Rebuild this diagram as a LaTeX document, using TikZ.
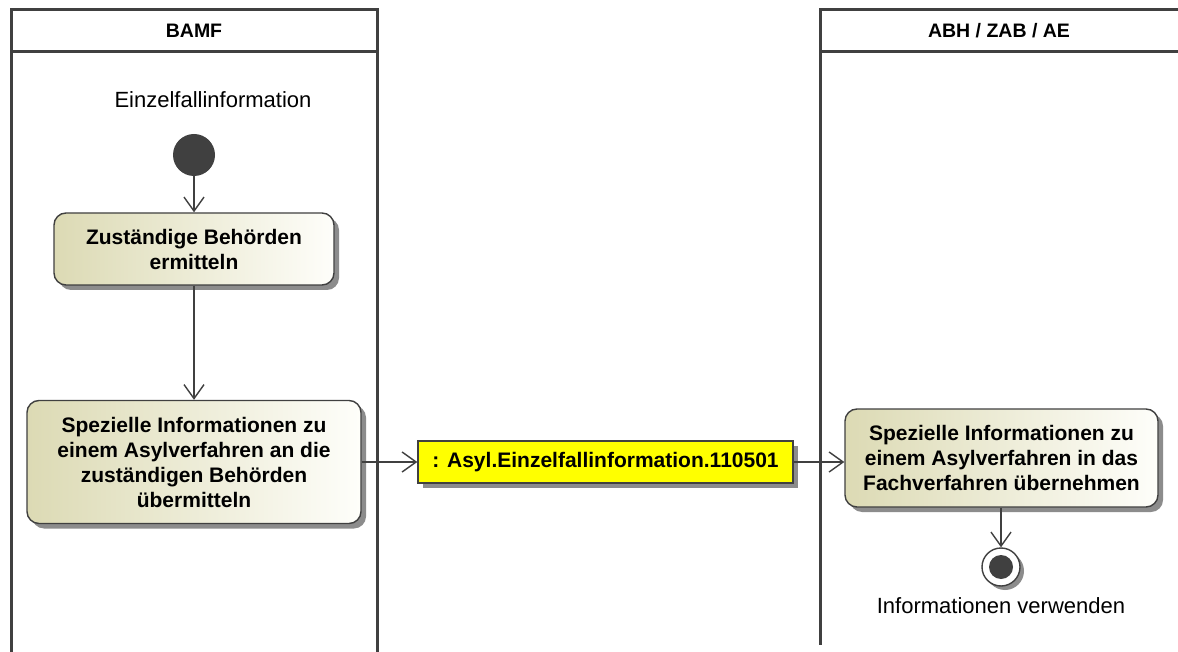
\documentclass[tikz,border=0pt]{standalone}
\usepackage{fontspec}
\setmainfont{Liberation Sans}
\usetikzlibrary{arrows.meta,shadows,positioning}
\definecolor{lanec}{HTML}{404040}
\definecolor{linec}{HTML}{404040}
\definecolor{actl}{HTML}{DCDAB4}
\definecolor{actr}{HTML}{FEFEFA}
\definecolor{objy}{HTML}{FFFF00}
\tikzset{
  lane/.style={draw=lanec, line width=3pt},
  action/.style={draw=linec, line width=1.4pt, rounded corners=12pt,
    left color=actl, right color=actr, align=center, inner sep=2pt,
    font=\fontsize{21}{25}\selectfont\bfseries,
    drop shadow={shadow xshift=5pt, shadow yshift=-5pt, fill=black!45, opacity=1}},
  objbox/.style={draw=linec, line width=1.4pt, fill=objy, inner sep=2pt,
    font=\fontsize{21}{25}\selectfont\bfseries,
    drop shadow={shadow xshift=5pt, shadow yshift=-5pt, fill=black!45, opacity=1}},
  flow/.style={draw=linec, line width=1.4pt, -{Straight Barb[length=14pt,width=20pt,line width=1.4pt]}},
  plain/.style={font=\fontsize{22}{26}\selectfont},
  hdr/.style={font=\fontsize{19.5}{22}\selectfont\bfseries},
}
\begin{document}
\begin{tikzpicture}[x=1pt,y=-1pt]
\useasboundingbox[fill=white] (0,0) rectangle (1178,652);
% lanes
\draw[lane] (11,10) rectangle (377,52);
\draw[lane] (11,52) -- (11,660);
\draw[lane] (377,52) -- (377,660);
\draw[lane] (820,10) rectangle (1190,52);
\draw[lane] (820,52) -- (820,645);
\node[hdr] (h1) at (194,31) {BAMF};
\node[hdr] (h2) at (999,31) {ABH / ZAB / AE};
% start
\node[plain] (lstart) at (213,100) {Einzelfallinformation};
\node[circle, fill=lanec, minimum size=42pt, inner sep=0pt] (start) at (194,155) {};
% actions
\node[action, minimum width=280pt, minimum height=72pt] (a1) at (194,249) {Zuständige Behörden\\ermitteln};
\node[action, minimum width=334pt, minimum height=123pt] (a2) at (194,462) {Spezielle Informationen zu\\einem Asylverfahren an die\\zuständigen Behörden\\übermitteln};
\node[objbox, minimum width=375pt, minimum height=42pt] (obj) at (605.5,462) {: Asyl.Einzelfallinformation.110501};
\node[action, minimum width=313pt, minimum height=98pt] (a3) at (1001.5,458) {Spezielle Informationen zu\\einem Asylverfahren in das\\Fachverfahren übernehmen};
% end
\node[circle, draw=linec, line width=1.4pt, fill=white, minimum size=38pt, inner sep=0pt,
  drop shadow={shadow xshift=4pt, shadow yshift=-4pt, fill=black!45, opacity=1}] (end) at (1001,567) {};
\node[circle, fill=lanec, minimum size=24pt, inner sep=0pt] (endin) at (end.center) {};
\node[plain] (lend) at (1001,606) {Informationen verwenden};
% flows
\draw[flow] (start) -- (a1);
\draw[flow] (a1) -- (a2);
\draw[flow] (a2.east) -- (obj.west);
\draw[flow] (obj.east) -- (obj.east -| a3.west);
\draw[flow] (a3.south -| end.north) -- (end.north);
\end{tikzpicture}
\end{document}
